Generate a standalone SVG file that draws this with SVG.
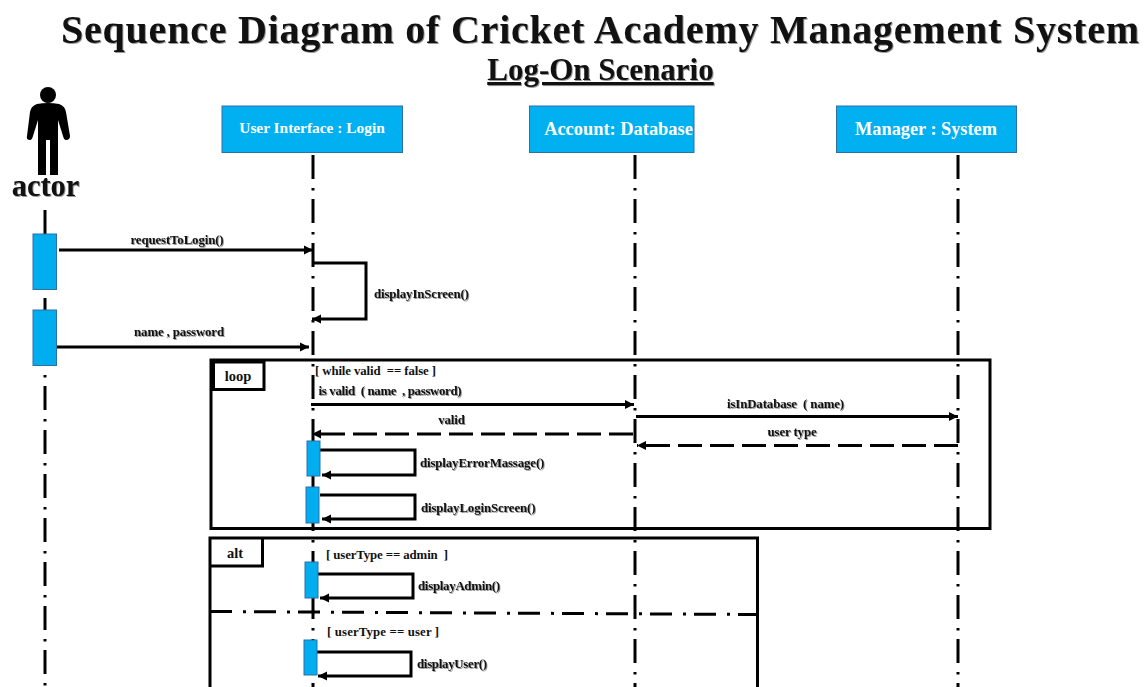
<svg xmlns="http://www.w3.org/2000/svg" width="1145" height="687" viewBox="0 0 1145 687">
<style>
text{font-family:"Liberation Serif","Times New Roman",serif;font-weight:bold;fill:#111}
.sh{filter:drop-shadow(1px 1px 0.5px #999)}
.head{fill:#00b0f0;stroke:#2f6fa8;stroke-width:1}
.headt{fill:#fff;text-anchor:middle}
.act{fill:#00aeef;stroke:#2f6fa8;stroke-width:1}
.life{fill:none;stroke:#000;stroke-width:3;stroke-dasharray:24 9 2.5 8.5}
.msg{fill:none;stroke:#000;stroke-width:3;marker-end:url(#a)}
.dash{stroke-dasharray:24 8}
.fr{fill:none;stroke:#000;stroke-width:3}
.lb{font-size:12.800px;letter-spacing:-0.1px}
.mid{text-anchor:middle}
</style>
<defs>
<marker id="a" markerUnits="userSpaceOnUse" markerWidth="12" markerHeight="12" refX="9" refY="6" orient="auto"><path d="M0 1.500L9 6L0 10.500Z" fill="#000"/></marker>
</defs>
<text class="sh" x="61" y="43" font-size="40" textLength="1078">Sequence Diagram of Cricket Academy Management System</text>
<text x="600.500" y="80" font-size="31" text-anchor="middle" text-decoration="underline" class="sh">Log-On Scenario</text>

<g id="connectors">
<path class="life" d="M45 210V687"/>
<path class="life" d="M313 155V687"/>
<path class="life" d="M635 155V687"/>
<path class="life" d="M958 155V687"/>
<path class="msg" d="M59 250H313"/>
<path class="msg" d="M313 263H366V319H312"/>
<path class="msg" d="M57 347H309"/>
<path class="msg" d="M311 404.500H634"/>
<path class="msg" d="M636 416.500H958"/>
<path class="msg dash" d="M958 445.500H637"/>
<path class="msg dash" d="M633 434H312"/>
<path class="msg" d="M320 450H415V475H322"/>
<path class="msg" d="M320 495H415V519H322"/>
<path class="msg" d="M318 574H413V598H320"/>
<path class="msg" d="M316 652H411V676H318"/>
</g>

<g id="actor">
<circle cx="48" cy="95" r="8"/>
<path d="M37 104Q48 102 59 104Q65 106 66 112L70 136Q70 140 66 140Q64 140 63 136L58 120V175H50V140H46V175H38V120L33 136Q32 140 30 140Q26 140 27 136L30 112Q31 106 37 104Z"/>
<text class="sh" x="45.500" y="196" font-size="30.500" text-anchor="middle">actor</text>
</g>
<g id="ui-login"><rect class="head" x="222" y="106" width="180.500" height="46.500"/><text class="headt" x="312" y="133" font-size="15.400">User Interface : Login</text></g>
<g id="account-database"><rect class="head" x="529.500" y="106" width="164.500" height="46.500"/><text class="headt" x="618.500" y="135" font-size="18.400">Account: Database</text></g>
<g id="manager-system"><rect class="head" x="836.500" y="106" width="180" height="46.500"/><text class="headt" x="926" y="135" font-size="18.300">Manager : System</text></g>

<g id="activations">
<rect class="act" x="33" y="234" width="23.500" height="55.500"/>
<rect class="act" x="33" y="310" width="23.500" height="55.500"/>
<rect class="act" x="307" y="441" width="13" height="35"/>
<rect class="act" x="306" y="487" width="13" height="36"/>
<rect class="act" x="305" y="562" width="13" height="36"/>
<rect class="act" x="304" y="640" width="13" height="35"/>
</g>

<g id="loop">
<rect class="fr" x="211" y="360" width="779" height="168.500"/>
<path class="fr" d="M212 362H264V389.500H212"/>
<path d="M211 360H215V391H211Z"/>
<text x="238" y="381" font-size="14.500" text-anchor="middle">loop</text>
</g>
<g id="alt">
<path class="fr" d="M210 687V538H757.500V687"/>
<path class="fr" d="M210 566H262.500V539"/>
<text x="235" y="558" font-size="14.500" text-anchor="middle">alt</text>
<path d="M210 611.500L757 614.500" fill="none" stroke="#000" stroke-width="3" stroke-dasharray="22 11 3 8"/>
</g>

<g id="labels">
<text class="lb mid sh" x="177" y="244">requestToLogin()</text>
<text class="lb sh" x="374" y="298">displayInScreen()</text>
<text class="lb mid sh" x="179" y="336">name  , password</text>
<text class="lb" x="315" y="375" xml:space="preserve">[ while valid  == false ]</text>
<text class="lb sh" x="318.500" y="395" textLength="143" xml:space="preserve">is valid  ( name  , password)</text>
<text class="lb mid sh" x="451.500" y="424">valid</text>
<text class="lb mid sh" x="785.500" y="408" xml:space="preserve">isInDatabase  ( name)</text>
<text class="lb mid sh" x="792" y="436">user type</text>
<text class="lb sh" x="420" y="467">displayErrorMassage()</text>
<text class="lb sh" x="421" y="512">displayLoginScreen()</text>
<text class="lb" x="326" y="559" xml:space="preserve">[ userType == admin  ]</text>
<text class="lb sh" x="418" y="590" textLength="82">displayAdmin()</text>
<text class="lb" x="327" y="636" textLength="112">[ userType == user ]</text>
<text class="lb sh" x="417" y="668" textLength="70">displayUser()</text>
</g>
</svg>
